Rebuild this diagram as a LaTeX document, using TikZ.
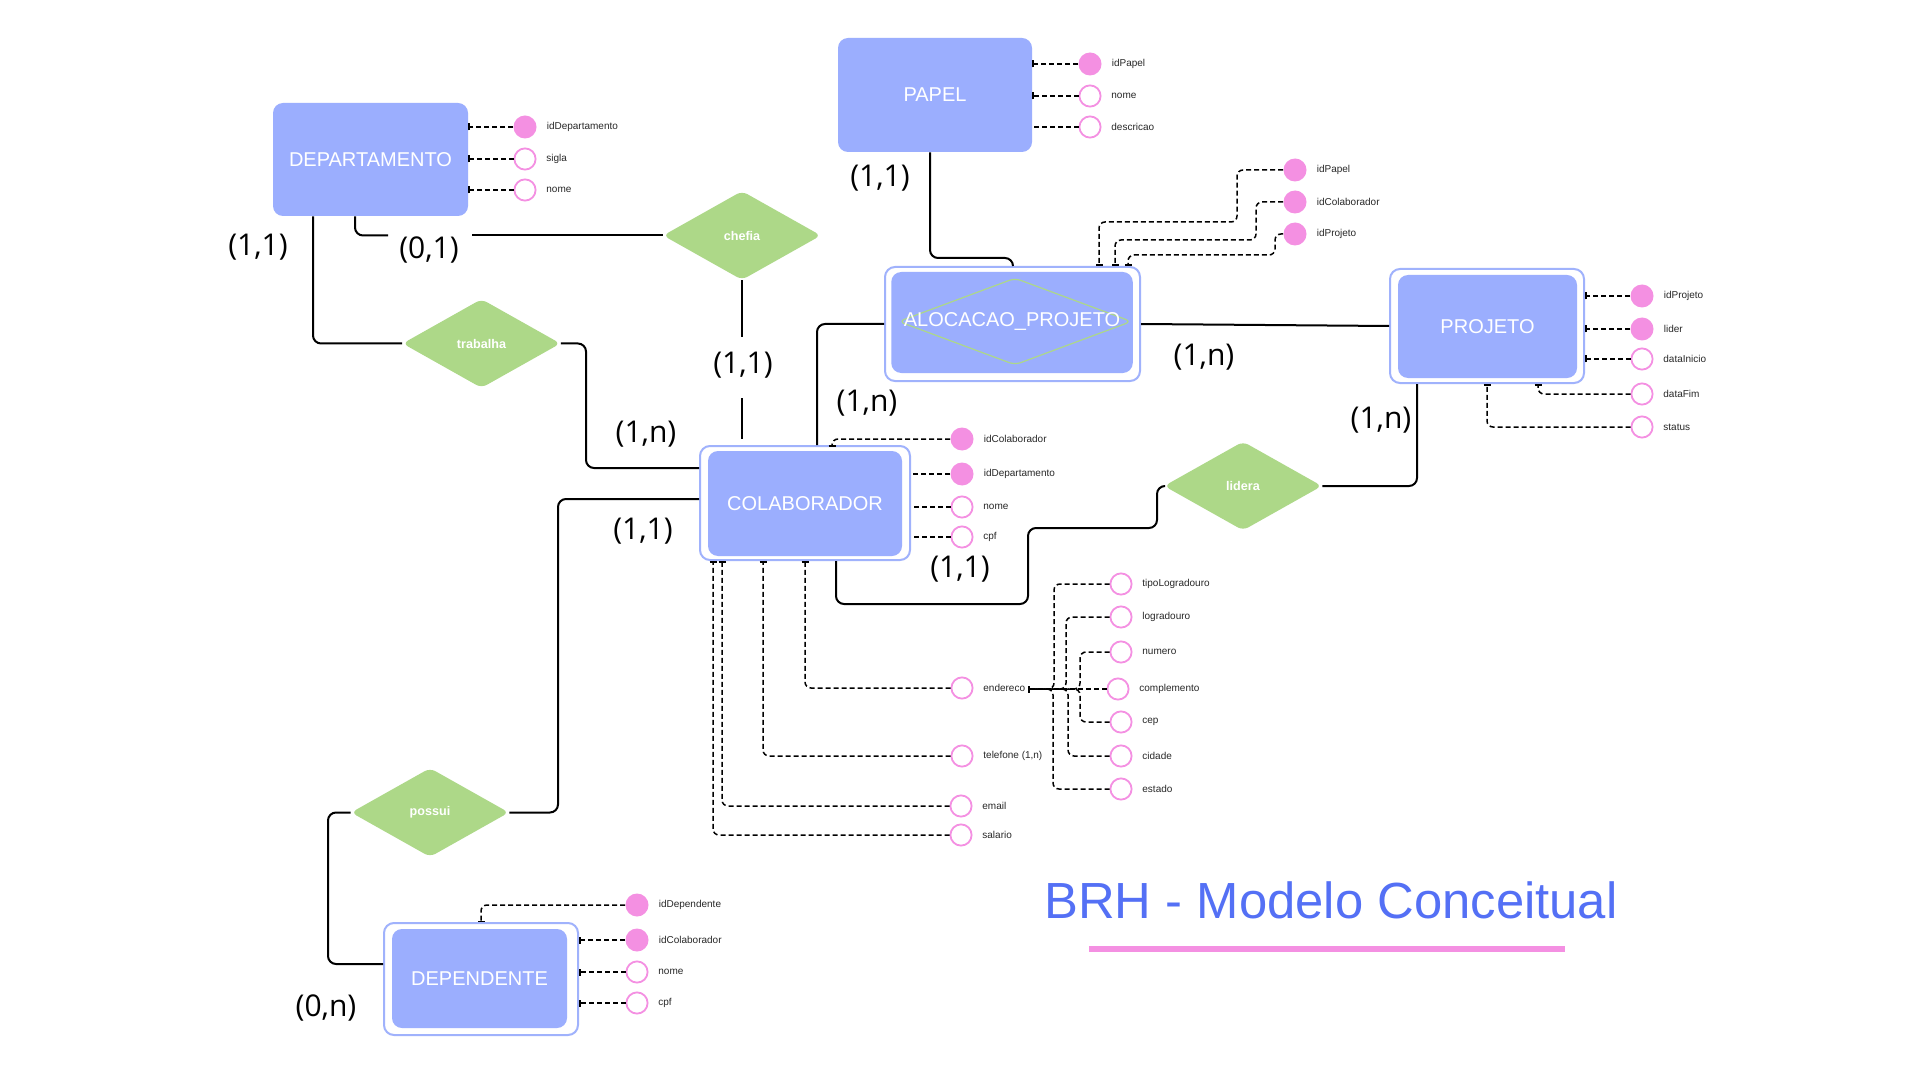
\documentclass[tikz,border=0pt]{standalone}
\usepackage{fontspec}
\setmainfont{Liberation Sans}
\newfontfamily\cardfont{Open Sans}
\usetikzlibrary{shapes.geometric,arrows.meta}
\definecolor{entblue}{RGB}{155,174,254}
\definecolor{entline}{RGB}{160,178,252}
\definecolor{relgreen}{RGB}{173,216,136}
\definecolor{attpink}{RGB}{244,144,226}
\definecolor{titleblue}{RGB}{84,112,245}
\definecolor{atgray}{RGB}{40,40,40}
\tikzset{
 entbox/.style={rectangle, rounded corners=5pt, fill=entblue, text=white, font=\fontsize{10}{11}\selectfont, inner sep=0pt},
 entouter/.style={rectangle, rounded corners=5pt, draw=entline, line width=1pt, fill=white, inner sep=0pt},
 rel/.style={diamond, fill=relgreen, text=white, font=\bfseries\fontsize{6.3}{7}\selectfont, inner sep=0pt, minimum width=79pt, minimum height=44.5pt, rounded corners=3pt},
 keyat/.style={circle, fill=attpink, minimum size=11.5pt, inner sep=0pt},
 plainat/.style={circle, draw=attpink, line width=0.9pt, fill=white, minimum size=10.6pt, inner sep=0pt},
 attxt/.style={font=\fontsize{5}{6}\selectfont, text=atgray, inner sep=0pt, anchor=west},
 card/.style={font=\cardfont\fontsize{15}{16}\selectfont, inner sep=0pt},
 relline/.style={line width=1pt, rounded corners=4pt},
 dline/.style={line width=0.75pt, dash pattern=on 2.5pt off 1.5pt, rounded corners=3pt},
 endbar/.style={-{Bar[width=3.5pt,line width=0.75pt]}},
}
\newcommand{\attK}[4]{\node[keyat] (#1) at (#2,#3) {}; \node[attxt] (#1t) at ([xshift=4.75pt]#1.east) {#4};}
\newcommand{\attP}[4]{\node[plainat] (#1) at (#2,#3) {}; \node[attxt] (#1t) at ([xshift=4.75pt]#1.east) {#4};}
\begin{document}
\begin{tikzpicture}[x=0.5pt, y=-0.5pt]
\fill[white] (0,0) rectangle (1920,1080);
\useasboundingbox (0,0) rectangle (1920,1080);

% ---------- entities ----------
\node[entbox, minimum width=97.5pt, minimum height=56.5pt] (dep) at (370.5,159.5) {DEPARTAMENTO};
\node[entbox, minimum width=97pt, minimum height=57pt] (pap) at (935,95) {PAPEL};

\node[entouter, minimum width=127.5pt, minimum height=57pt] (alo) at (1012.5,324) {};
\node[entbox, minimum width=120.75pt, minimum height=50.5pt] (aloin) at (1012,322.5) {};
\node[diamond, draw=relgreen, line width=0.6pt, minimum width=116.5pt, minimum height=43.5pt, inner sep=0pt, rounded corners=3pt] (alod) at (1015,321.5) {};
\node[text=white, font=\fontsize{10}{11}\selectfont, inner sep=0pt] (alot) at (1012,322) {ALOCACAO\_PROJETO};

\node[entouter, minimum width=97pt, minimum height=57pt] (proj) at (1487,326) {};
\node[entbox, minimum width=89.5pt, minimum height=51.5pt] (projin) at (1487.5,326.5) {PROJETO};

\node[entouter, minimum width=105pt, minimum height=57pt] (col) at (805,503) {};
\node[entbox, minimum width=97pt, minimum height=52.5pt] (colin) at (805,503.5) {COLABORADOR};

\node[entouter, minimum width=97pt, minimum height=56pt] (dpd) at (481,979) {};
\node[entbox, minimum width=87.5pt, minimum height=49.5pt] (dpdin) at (479.5,978.5) {DEPENDENTE};

% ---------- relationships ----------
\node[rel] (chef) at (742,235.5) {chefia};
\node[rel] (trab) at (481.5,343.5) {trabalha};
\node[rel] (lid) at (1243,486) {lidera};
\node[rel] (pos) at (430,812.5) {possui};

% ---------- attributes ----------
\attK{da1}{525}{127}{idDepartamento}
\attP{da2}{525}{159}{sigla}
\attP{da3}{525}{190}{nome}

\attK{pa1}{1090}{64}{idPapel}
\attP{pa2}{1090}{96}{nome}
\attP{pa3}{1090}{127}{descricao}

\attK{al1}{1295}{170}{idPapel}
\attK{al2}{1295}{202}{idColaborador}
\attK{al3}{1295}{234}{idProjeto}

\attK{pj1}{1642}{296}{idProjeto}
\attK{pj2}{1642}{329}{lider}
\attP{pj3}{1642}{359}{dataInicio}
\attP{pj4}{1642}{394}{dataFim}
\attP{pj5}{1642}{427}{status}

\attK{c1}{962}{439}{idColaborador}
\attK{c2}{962}{474}{idDepartamento}
\attP{c3}{962}{507}{nome}
\attP{c4}{962}{537}{cpf}
\attP{ce}{962}{688}{endereco}
\attP{ct}{962}{756}{telefone (1,n)}
\attP{cm}{961}{806}{email}
\attP{cs}{961}{835}{salario}

\attP{s1}{1121}{584}{tipoLogradouro}
\attP{s2}{1121}{617}{logradouro}
\attP{s3}{1121}{652}{numero}
\attP{s4}{1118}{689}{complemento}
\attP{s5}{1121}{722}{cep}
\attP{s6}{1121}{756}{cidade}
\attP{s7}{1121}{789}{estado}

\attK{d1}{637}{905}{idDependente}
\attK{d2}{637}{940}{idColaborador}
\attP{d3}{637}{972}{nome}
\attP{d4}{637}{1003}{cpf}

% ---------- attribute connectors ----------
\draw[dline,endbar] (da1.west) -- (da1.west -| dep.east);
\draw[dline,endbar] (da2.west) -- (da2.west -| dep.east);
\draw[dline,endbar] (da3.west) -- (da3.west -| dep.east);

\draw[dline,endbar] (pa1.west) -- (pa1.west -| pap.east);
\draw[dline,endbar] (pa2.west) -- (pa2.west -| pap.east);
\draw[dline] (pa3.west) -- (pa3.west -| pap.east);

\draw[dline,endbar] (al1.west) -- (1237,170) -- (1237,222) -- (1099,222) -- (1099,0 |- alo.north);
\draw[dline,endbar] (al2.west) -- (1256,202) -- (1256,240) -- (1115,240) -- (1115,0 |- alo.north);
\draw[dline,endbar] (al3.west) -- (1275,234) -- (1275,255) -- (1128,255) -- (1128,0 |- alo.north);

\draw[dline,endbar] (pj1.west) -- (pj1.west -| proj.east);
\draw[dline,endbar] (pj2.west) -- (pj2.west -| proj.east);
\draw[dline,endbar] (pj3.west) -- (pj3.west -| proj.east);
\draw[dline,endbar] (pj4.west) -- (1538,394) -- (1538,0 |- proj.south);
\draw[dline,endbar] (pj5.west) -- (1487,427) -- (proj.south);

\draw[dline,endbar] (c1.west) -- (832,439) -- (832,0 |- col.north);
\draw[dline] (c2.west) -- (c2.west -| col.east);
\draw[dline] (c3.west) -- (c3.west -| col.east);
\draw[dline] (c4.west) -- (c4.west -| col.east);
\draw[dline,endbar] (ce.west) -- (805,688) -- (col.south);
\draw[dline,endbar] (ct.west) -- (763,756) -- (763,0 |- col.south);
\draw[dline,endbar] (cm.west) -- (722,806) -- (722,0 |- col.south);
\draw[dline,endbar] (cs.west) -- (713,835) -- (713,0 |- col.south);

\coordinate (em) at (1028,689);
\draw[dline,endbar] (s1.west) -- (1054,584) -- (1054,689) -- (em);
\draw[dline,endbar] (s2.west) -- (1066,617) -- (1066,689) -- (em);
\draw[dline,endbar] (s3.west) -- (1080,652) -- (1080,689) -- (em);
\draw[dline,endbar] (s4.west) -- (em);
\draw[dline,endbar] (s5.west) -- (1080,722) -- (1080,689) -- (em);
\draw[dline,endbar] (s6.west) -- (1068,756) -- (1068,689) -- (em);
\draw[dline,endbar] (s7.west) -- (1053,789) -- (1053,689) -- (em);

\draw[dline,endbar] (d1.west) -- (481,905) -- (dpd.north);
\draw[dline,endbar] (d2.west) -- (d2.west -| dpd.east);
\draw[dline,endbar] (d3.west) -- (d3.west -| dpd.east);
\draw[dline,endbar] (d4.west) -- (d4.west -| dpd.east);

% ---------- relationship connectors ----------
\coordinate (g1a) at (388,235.5);
\coordinate (g1b) at (472,235.5);
\draw[relline] (355,0 |- dep.south) -- (355,235.5) -- (g1a);
\draw[relline] (g1b) -- (chef.west);

\draw[relline] (313,0 |- dep.south) -- (313,343.5) -- (trab.west);
\draw[relline] (trab.east) -- (586,343.5) -- (586,468) -- (col.west |- 0,468);

\coordinate (g2a) at (742,337);
\coordinate (g2b) at (742,398);
\draw[relline] (chef.south) -- (g2a);
\draw[relline] (g2b) -- (742,439);

\draw[relline] (alo.west) -- (817,324) -- (817,0 |- col.north);
\draw[relline] (alo.east) -- (proj.west);
\draw[relline] (930,0 |- pap.south) -- (930,258) -- (1013,258) -- (1013,0 |- alo.north);

\draw[relline] (1417,0 |- proj.south) -- (1417,486) -- (lid.east);
\draw[relline] (lid.west) -- (1157,486) -- (1157,528) -- (1028,528) -- (1028,604) -- (836,604) -- (836,0 |- col.south);

\draw[relline] (col.west |- 0,499) -- (558,499) -- (558,812.5) -- (pos.east);
\draw[relline] (pos.west) -- (328,812.5) -- (328,964) -- (dpd.west |- 0,964);

% ---------- cardinalities ----------
\node[card] (k1) at (880,178) {(1,1)};
\node[card] (k2) at (258,247) {(1,1)};
\node[card] (k3) at (429,250) {(0,1)};
\node[card] (k4) at (743,365) {(1,1)};
\node[card] (k5) at (646,434) {(1,n)};
\node[card] (k6) at (867,403) {(1,n)};
\node[card] (k7) at (1204,357) {(1,n)};
\node[card] (k8) at (1381,420) {(1,n)};
\node[card] (k9) at (643,531) {(1,1)};
\node[card] (k10) at (960,569) {(1,1)};
\node[card] (k11) at (326,1008) {(0,n)};

% ---------- title ----------
\node[font=\fontsize{25.4}{30}\selectfont, text=titleblue, inner sep=0pt] (title) at (1331,900) {BRH - Modelo Conceitual};
\coordinate (ula) at (1089,949);
\coordinate (ulb) at (1565,949);
\draw[attpink, line width=3pt] (ula) -- (ulb);
\end{tikzpicture}
\end{document}
